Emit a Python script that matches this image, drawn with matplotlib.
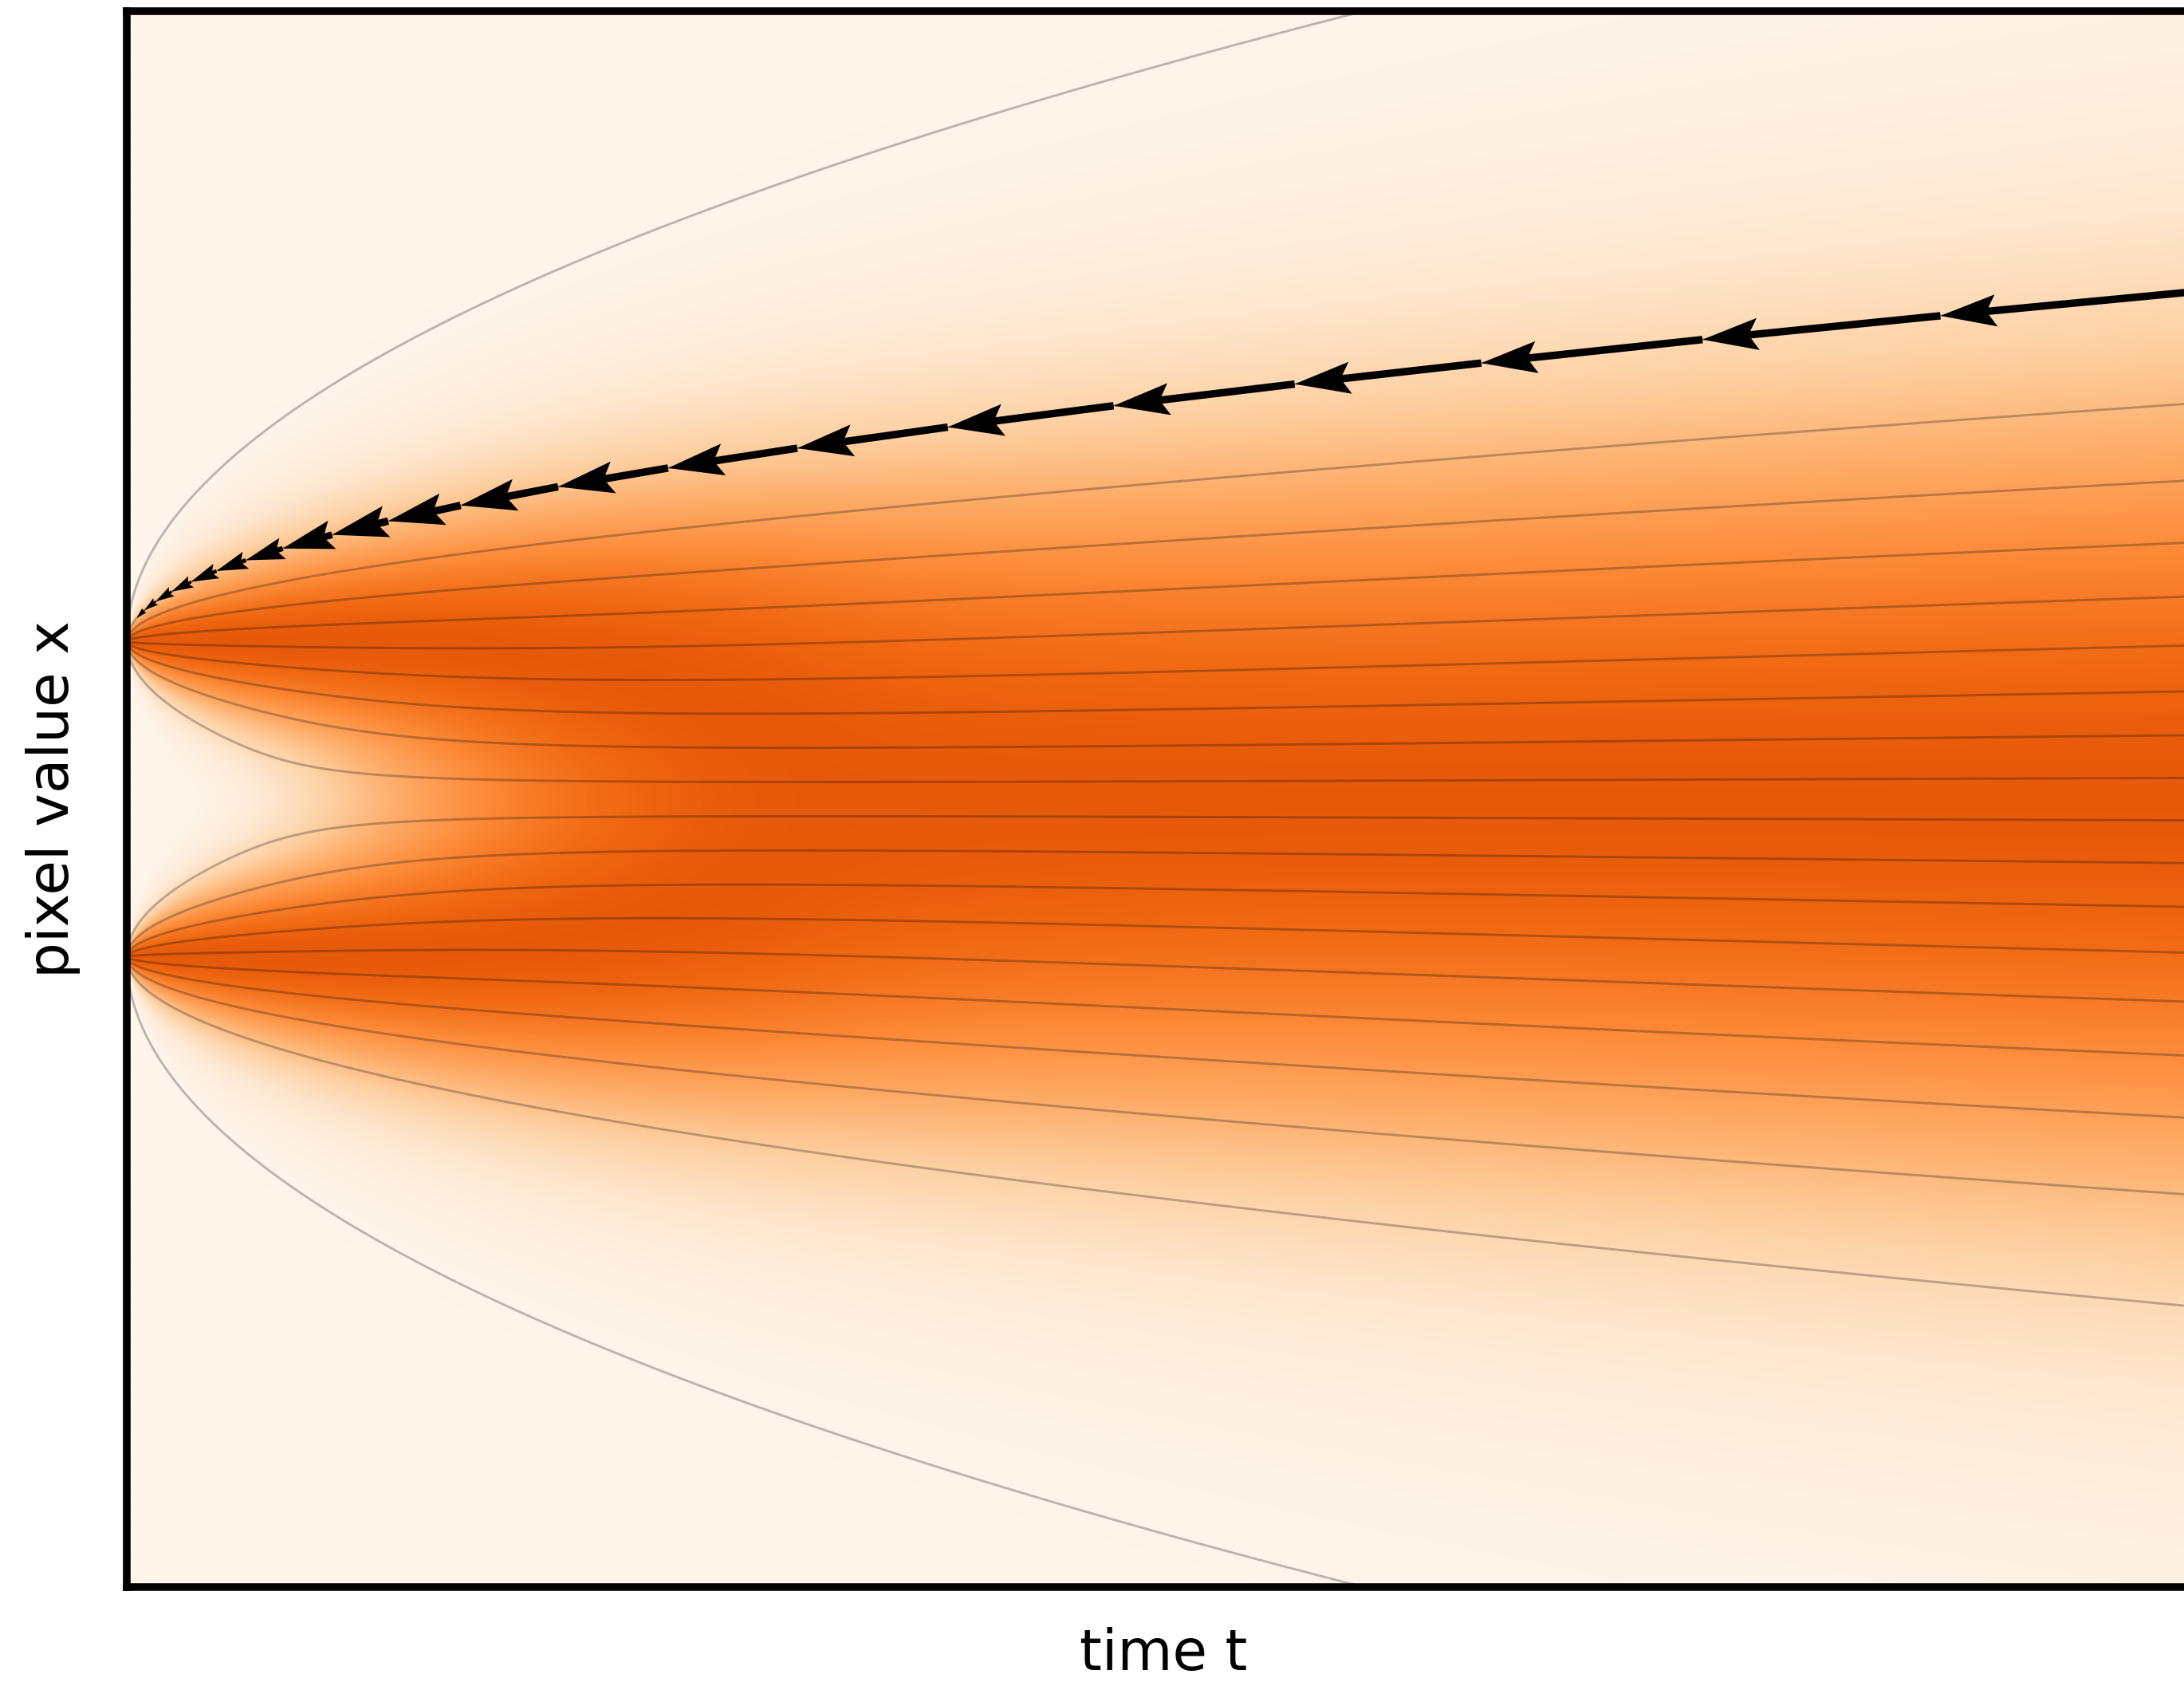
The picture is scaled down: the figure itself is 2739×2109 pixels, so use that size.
import numpy as np
import matplotlib
matplotlib.use("Agg")
import matplotlib.pyplot as plt

# two training samples (pixel values) diffused with sigma(t)^2 = t
data_points = [-1.0, 1.0]
t_max = 3.0
x_lim = (-5.0, 5.0)

# probability levels whose flow lines are drawn (gray)
levels = [0.0007, 0.0535, 0.1061, 0.1586, 0.2111, 0.2636, 0.3162, 0.3687,
          0.4212, 0.4737, 0.5263, 0.5788, 0.6313, 0.6839, 0.7364, 0.7889,
          0.8414, 0.8939, 0.9465, 0.9993]
highlight_level = 0.9465

# noise levels visited by the sampler along the highlighted path
sigma_steps = [1.732, 1.62, 1.51, 1.40, 1.30, 1.195, 1.09, 0.985, 0.885,
               0.79, 0.695, 0.615, 0.545, 0.475, 0.415, 0.36, 0.305, 0.255,
               0.205, 0.16, 0.12]


def erf(z):
    # Abramowitz & Stegun 7.1.26
    s = np.sign(z)
    a = np.abs(z)
    k = 1.0 / (1.0 + 0.3275911 * a)
    poly = k * (0.254829592 + k * (-0.284496736 + k * (1.421413741
           + k * (-1.453152027 + k * 1.061405429))))
    return s * (1.0 - poly * np.exp(-a * a))


def mixture_cdf(x, sigma):
    c = np.zeros_like(x)
    for m in data_points:
        c += 0.5 * (1.0 + erf((x - m) / (sigma * np.sqrt(2.0))))
    return c / len(data_points)


def mixture_pdf(x, sigma):
    p = np.zeros_like(x)
    for m in data_points:
        p += np.exp(-0.5 * ((x - m) / sigma) ** 2) / sigma
    return p / len(data_points)


def quantile(p, sigma):
    lo = np.full_like(sigma, -15.0)
    hi = np.full_like(sigma, 15.0)
    for _ in range(60):
        mid = 0.5 * (lo + hi)
        below = mixture_cdf(mid, sigma) < p
        lo = np.where(below, mid, lo)
        hi = np.where(below, hi, mid)
    return 0.5 * (lo + hi)


dpi = 300
fig = plt.figure(figsize=(2739 / dpi, 2109 / dpi), dpi=dpi)
ax = fig.add_axes([159 / 2739, 1 - 1990 / 2109, 2600 / 2739, 1976 / 2109])

# density of the diffused data, each time slice scaled to its own maximum
t_img = np.linspace(0, t_max, 1300)
x_img = np.linspace(x_lim[0], x_lim[1], 1000)
T, X = np.meshgrid(t_img, x_img)
dens = mixture_pdf(X, np.sqrt(np.maximum(T, 1e-5)))
dens = dens / dens.max(axis=0, keepdims=True)
ax.imshow(dens, extent=[0, t_max, x_lim[0], x_lim[1]], origin="lower",
          aspect="auto", cmap="Oranges", vmin=0, vmax=1.47,
          interpolation="bilinear", zorder=0)

# flow lines: in 1-D the probability-flow ODE keeps every quantile fixed
t_line = np.linspace(0, 1, 900) ** 2 * t_max
sig_line = np.sqrt(np.maximum(t_line, 1e-10))
for p in levels:
    ax.plot(t_line, quantile(np.full_like(t_line, p), sig_line),
            color="k", alpha=0.26, lw=0.7, zorder=2)

# sampler path from t_max back to the data, one arrow per step
sig = np.array(sigma_steps)
t_path = sig ** 2
x_path = quantile(np.full_like(sig, highlight_level), sig)
ax.quiver(t_path[:-1], x_path[:-1], np.diff(t_path), np.diff(x_path),
          angles="xy", scale_units="xy", scale=1, color="k",
          width=0.0036, headwidth=4.3, headlength=7.5, headaxislength=6.5,
          zorder=4)

ax.set_xlim(0, t_max)
ax.set_ylim(*x_lim)
ax.set_xticks([])
ax.set_yticks([])
for s in ax.spines.values():
    s.set_linewidth(2.3)
ax.set_xlabel("time t", fontsize=17, labelpad=12)
ax.set_ylabel("pixel value x", fontsize=17, labelpad=14)

fig.savefig("out.png", dpi=dpi)
